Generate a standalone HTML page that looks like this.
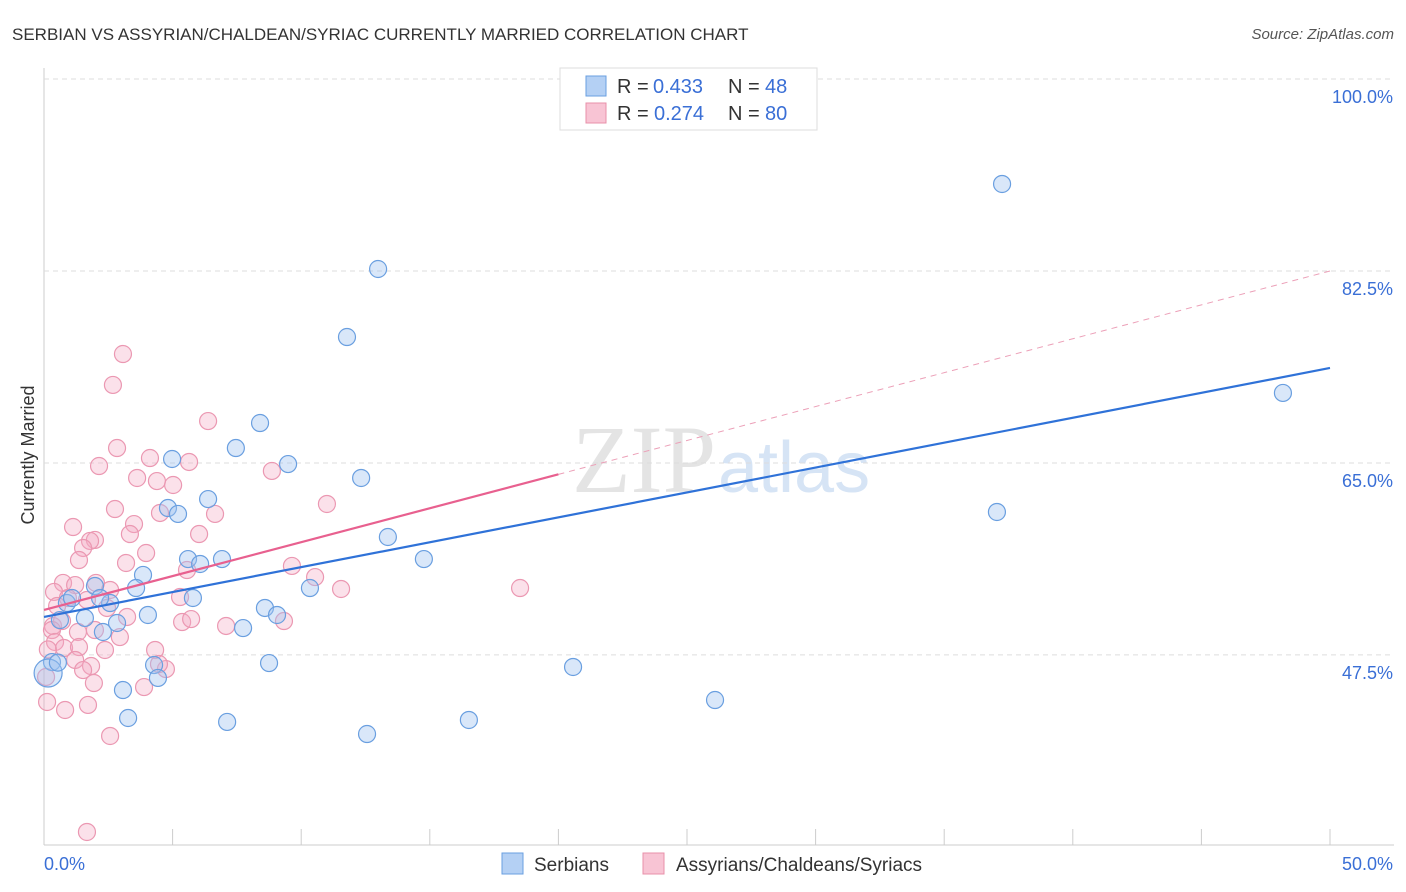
<!DOCTYPE html>
<html><head><meta charset="utf-8"><style>
body{margin:0;background:#fff;font-family:"Liberation Sans",sans-serif;}
svg{display:block}
</style></head><body>
<svg id="chart" width="1406" height="892">
<text x="12" y="40" font-size="17" fill="#333">SERBIAN VS ASSYRIAN/CHALDEAN/SYRIAC CURRENTLY MARRIED CORRELATION CHART</text>
<text x="1394" y="39" font-size="15" fill="#555" font-style="italic" text-anchor="end">Source: ZipAtlas.com</text>
<text x="716" y="492" font-size="96" fill="#e4e4e4" text-anchor="end" font-family="Liberation Serif,serif">ZIP</text>
<text x="718" y="492" font-size="72" fill="#d6e4f5">atlas</text>
<text transform="translate(34,455) rotate(-90)" font-size="18" fill="#333" text-anchor="middle">Currently Married</text>
<g id="grid"></g><g id="pts"></g><g id="lines"></g>
<g>
<rect x="560" y="68" width="257" height="62" fill="#fff" stroke="#ddd"/>
<rect x="586" y="76" width="20" height="20" fill="#b4d0f4" stroke="#6a9fe0"/>
<rect x="586" y="103" width="20" height="20" fill="#f8c4d4" stroke="#e890aa"/>
<text x="617" y="93" font-size="20" fill="#333">R =</text><text x="653" y="93" font-size="20" fill="#3a6fd6">0.433</text>
<text x="728" y="93" font-size="20" fill="#333">N =</text><text x="765" y="93" font-size="20" fill="#3a6fd6">48</text>
<text x="617" y="120" font-size="20" fill="#333">R =</text><text x="654" y="120" font-size="20" fill="#3a6fd6">0.274</text>
<text x="728" y="120" font-size="20" fill="#333">N =</text><text x="765" y="120" font-size="20" fill="#3a6fd6">80</text>
</g>
<g>
<rect x="502" y="853" width="21" height="21" fill="#b4d0f4" stroke="#6a9fe0"/>
<text x="534" y="871" font-size="19" fill="#333">Serbians</text>
<rect x="643" y="853" width="21" height="21" fill="#f8c4d4" stroke="#e890aa"/>
<text x="676" y="871" font-size="19" fill="#333">Assyrians/Chaldeans/Syriacs</text>
</g>
</svg>
<script>
const yTicks=[100,82.5,65,47.5];
const yTickLabels=["100.0%","82.5%","65.0%","47.5%"];
const xTickLabels=["0.0%","50.0%"];
const blueX=[37.25,12.99,11.78,48.17,8.40,7.46,9.49,4.98,12.33,6.38,4.82,5.21,37.05,13.37,5.60,6.92,6.07,14.77,3.85,3.58,10.34,1.98,2.57,5.79,8.59,9.06,4.04,0.89,1.59,2.84,2.29,7.74,0.31,4.28,8.75,20.57,4.43,3.07,26.09,3.27,7.12,16.52,12.56,0.16,0.62,1.09,2.18,0.54];
const blueY=[90.43,82.68,76.48,71.38,68.64,66.36,64.90,65.36,63.63,61.71,60.89,60.35,60.53,58.25,56.24,56.24,55.79,56.24,54.79,53.60,53.60,53.78,52.23,52.69,51.78,51.14,51.14,52.23,50.87,50.41,49.59,49.95,46.85,46.58,46.76,46.40,45.40,44.30,43.39,41.75,41.39,41.57,40.29,45.85,50.68,52.69,52.69,46.8];
const pinkX=[3.07,2.68,6.38,2.84,4.12,5.64,2.14,8.86,3.62,4.39,5.02,11.00,2.76,4.51,6.65,1.13,3.50,6.03,3.34,1.98,1.79,1.52,3.97,1.36,3.19,5.56,9.64,10.54,0.74,2.02,1.21,2.57,11.55,18.51,0.39,0.93,5.29,1.67,2.45,0.51,3.23,5.37,5.72,7.08,9.33,0.35,0.70,1.32,1.98,2.95,0.31,0.43,0.78,1.36,2.37,4.32,1.21,1.83,1.52,4.74,4.47,0.08,1.94,3.89,0.12,0.82,1.71,2.57,1.67,0.15];
const pinkY=[74.93,72.11,68.82,66.36,65.45,65.09,64.72,64.27,63.63,63.35,62.99,61.26,60.80,60.44,60.35,59.16,59.43,58.52,58.52,57.98,57.89,57.25,56.79,56.15,55.88,55.24,55.61,54.60,54.06,54.06,53.87,53.42,53.51,53.60,53.24,52.69,52.78,52.51,51.78,51.96,50.96,50.50,50.77,50.14,50.59,50.14,50.59,49.59,49.77,49.13,49.77,48.68,48.13,48.22,47.95,47.95,47.04,46.49,46.12,46.21,46.67,45.49,44.94,44.57,43.21,42.48,42.94,40.11,31.36,48.0];
const blueFit=[50.96,73.66];
const pinkFit=[51.60,82.5];
const X=v=>44+v*25.72, Y=v=>79+(100-v)*10.97;
const NS="http://www.w3.org/2000/svg";
function mk(t,a,p){const e=document.createElementNS(NS,t);for(const k in a)e.setAttribute(k,a[k]);p.appendChild(e);return e;}
const grid=document.getElementById('grid');
mk('line',{x1:44,y1:68,x2:44,y2:845,stroke:'#ccc'},grid);
mk('line',{x1:44,y1:845,x2:1394,y2:845,stroke:'#ccc'},grid);
for(let i=0;i<=10;i++){const t=mk('line',{x1:44+i*128.6,y1:829,x2:44+i*128.6,y2:845,stroke:'#ccc'},grid);

}
yTicks.forEach((v,i)=>{const l=mk('line',{x1:44,y1:Y(v),x2:1394,y2:Y(v),stroke:'#ddd','stroke-dasharray':'5,4'},grid);


const t=mk('text',{x:1393,y:Y(v)+24,'font-size':18,fill:'#3a6fd6','text-anchor':'end'},grid);t.textContent=yTickLabels[i];

});
[[44,'start'],[1393,'end']].forEach((p,i)=>{const t=mk('text',{x:p[0],y:870,'font-size':18,fill:'#3a6fd6','text-anchor':p[1]},grid);t.textContent=xTickLabels[i];

});
const pts=document.getElementById('pts');
pinkX.forEach((x,i)=>{const c=mk('circle',{cx:X(x),cy:Y(pinkY[i]),r:8.5,fill:'rgba(244,170,195,0.35)',stroke:'#eb98b2','stroke-width':1.2},pts);

});
blueX.forEach((x,i)=>{const c=mk('circle',{cx:X(x),cy:Y(blueY[i]),r:i==43?14:8.5,fill:'rgba(160,196,240,0.4)',stroke:'#6a9fe0','stroke-width':1.2},pts);

});
const lines=document.getElementById('lines');
const pAt=v=>pinkFit[0]+(pinkFit[1]-pinkFit[0])*v/50;
let l=mk('line',{x1:X(20),y1:Y(pAt(20)),x2:X(50),y2:Y(pAt(50)),stroke:'#eca0b8','stroke-width':1,'stroke-dasharray':'6,5'},lines);


l=mk('line',{x1:X(0),y1:Y(blueFit[0]),x2:X(50),y2:Y(blueFit[1]),stroke:'#2f72d8','stroke-width':2.2},lines);


l=mk('line',{x1:X(0),y1:Y(pAt(0)),x2:X(20),y2:Y(pAt(20)),stroke:'#e8608f','stroke-width':2.2},lines);


</script>
</body></html>
